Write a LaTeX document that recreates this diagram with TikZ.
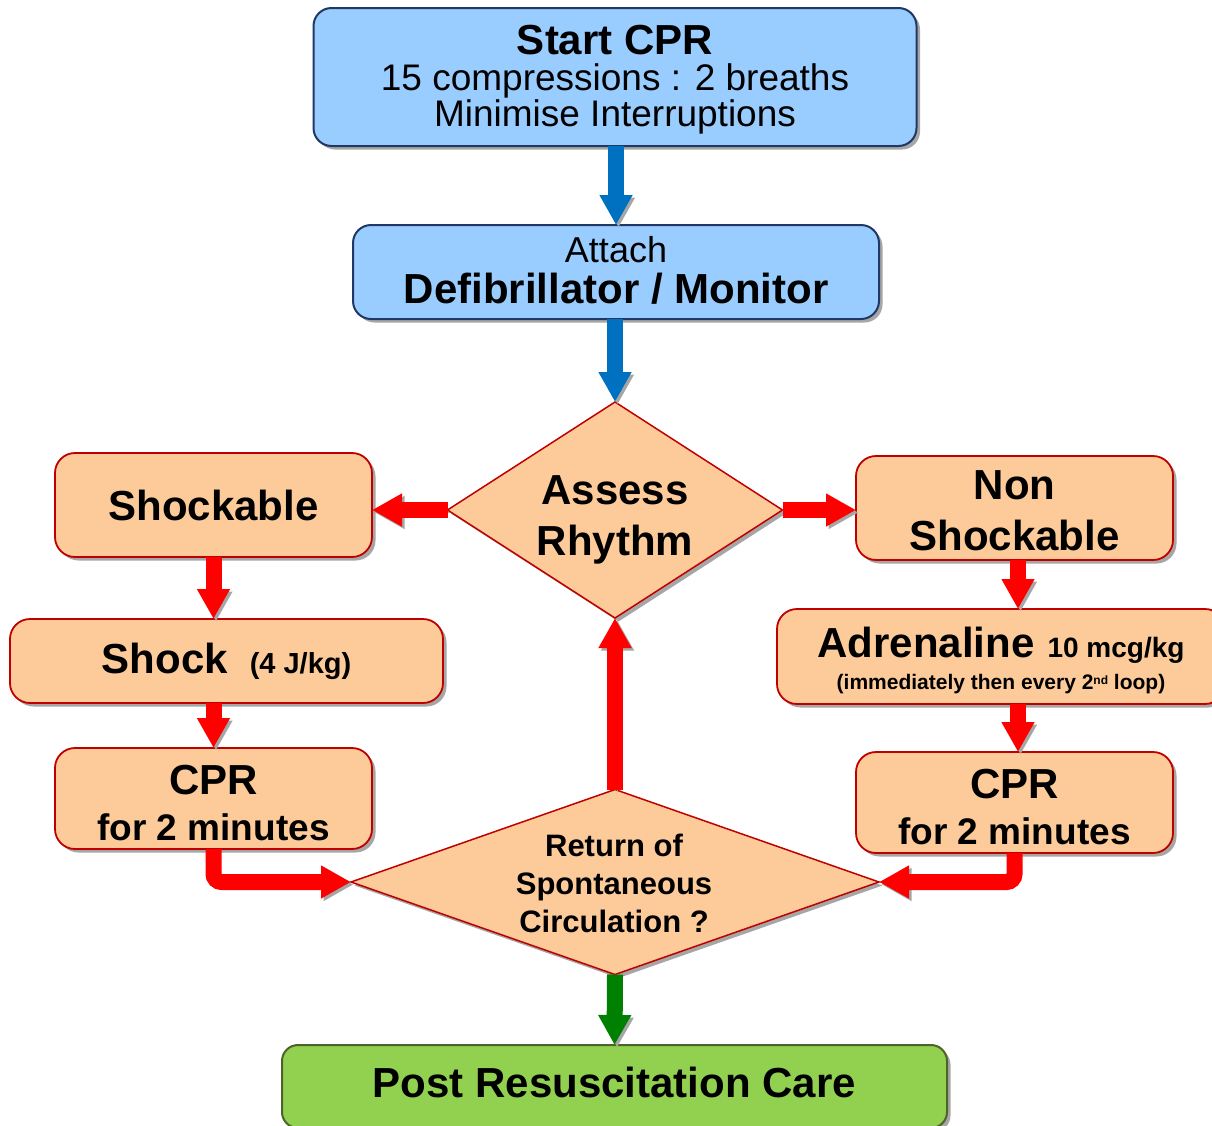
\documentclass[tikz,border=0pt]{standalone}
\usepackage{fontspec}
\setmainfont{Liberation Sans}
\usetikzlibrary{shapes.geometric,shadows,arrows.meta}
\definecolor{bluefill}{HTML}{99CCFF}
\definecolor{navyline}{HTML}{203864}
\definecolor{peach}{HTML}{FDCB99}
\definecolor{darkred}{HTML}{C00000}
\definecolor{redarr}{HTML}{FF0000}
\definecolor{bluearr}{HTML}{0070C0}
\definecolor{greenarr}{HTML}{008000}
\definecolor{greenfill}{HTML}{92D050}
\definecolor{greenline}{HTML}{4F6228}
\definecolor{shadowgray}{HTML}{A6A6A6}
\newcommand\fsz[2]{\fontsize{#1}{#2}\selectfont}
\newcommand\supsmall[1]{\raisebox{5pt}{\fsz{12}{12}#1}}
\begin{document}
\begin{tikzpicture}[x=1pt,y=-1pt,
  every node/.style={inner sep=0pt,outer sep=0pt,align=center},
  boxshadow/.style={drop shadow={shadow xshift=3.5pt,shadow yshift=-3.5pt,fill=shadowgray,opacity=1}},
  blbox/.style={rectangle,rounded corners=18pt,fill=bluefill,draw=navyline,line width=2pt,boxshadow},
  orbox/.style={rectangle,rounded corners=20pt,fill=peach,draw=darkred,line width=1.8pt,boxshadow},
  grbox/.style={rectangle,rounded corners=16pt,fill=greenfill,draw=greenline,line width=2pt,boxshadow},
  dia/.style={diamond,fill=peach,draw=darkred,line width=1.5pt,boxshadow},
  blockarr/.style={line width=16pt,-{Triangle[width=31pt,length=30pt]},
    preaction={draw=shadowgray,transform canvas={xshift=2.5pt,yshift=-2.5pt}}},
  redline/.style={blockarr,draw=redarr,color=redarr},
  blueline/.style={blockarr,draw=bluearr,color=bluearr},
  greenline/.style={blockarr,draw=greenarr,color=greenarr}
]
\useasboundingbox (0,0) rectangle (1212,1125);

% boxes
\node[blbox,minimum width=603pt,minimum height=138pt] (start) at (615,77) {};
\node[font=\fsz{37}{36}] (starttxt) at (615,80)
  {\bfseries\fsz{42}{36}Start CPR\\15 compressions : 2 breaths\\Minimise Interruptions};
\node[blbox,minimum width=526pt,minimum height=94pt] (attach) at (616,272) {};
\node[font=\fsz{36}{41}] (attachtxt) at (616,270)
  {Attach\\\bfseries\fsz{42}{41}Defibrillator / Monitor};
\node[dia,minimum width=335pt,minimum height=216pt] (assess) at (615,510) {};
\node[font=\bfseries\fsz{42}{51}] (assesstxt) at (615,520) {Assess\\Rhythm};

\node[orbox,minimum width=317pt,minimum height=104pt,font=\bfseries\fsz{42}{44}] (shockable) at (213.5,505)
  {Shockable};
\node[orbox,minimum width=317pt,minimum height=104pt] (nonshock) at (1014.5,508) {};
\node[font=\bfseries\fsz{42}{51}] (nonshocktxt) at (1014.5,511) {Non\\Shockable};
\node[orbox,minimum width=433pt,minimum height=84pt,font=\bfseries\fsz{42}{44}] (shock) at (226.5,661)
  {Shock\hspace{22pt}\fsz{29}{44}(4 J/kg)};
\node[orbox,minimum width=448pt,minimum height=95pt] (adren) at (1001,656.5) {};
\node[font=\bfseries\fsz{21}{32}] (adrentxt) at (1001,660)
  {\fsz{42}{32}Adrenaline\hspace{13pt}\fsz{28}{32}10 mcg/kg\\(immediately then every 2\supsmall{nd} loop)};
\node[orbox,minimum width=317pt,minimum height=101pt] (cprl) at (213.5,798.5) {};
\node[font=\bfseries\fsz{37}{46}] (cprltxt) at (213.5,803) {\fsz{42}{46}CPR\\for 2 minutes};
\node[orbox,minimum width=317pt,minimum height=101pt] (cprr) at (1014.5,802.5) {};
\node[font=\bfseries\fsz{37}{46}] (cprrtxt) at (1014.5,807.5) {\fsz{42}{46}CPR\\for 2 minutes};
\node[dia,minimum width=528pt,minimum height=185pt] (rosc) at (615,882) {};
\node[font=\bfseries\fsz{31}{38}] (rosctxt) at (614,883) {Return of\\Spontaneous\\Circulation ?};
\node[grbox,minimum width=665pt,minimum height=83pt] (post) at (614.5,1086.5) {};
\node[font=\bfseries\fsz{42}{44}] (posttxt) at (614.5,1082) {Post Resuscitation Care};

% connectors
\draw[blueline] (start.south -| attach.north) -- (attach.north);
\draw[blueline] (attach.south -| assess.north) -- (assess.north);
\draw[redline] (assess.west) -- (assess.west -| shockable.east);
\draw[redline] (assess.east) -- (assess.east -| nonshock.west);
\draw[redline] (shockable.south) -- (shockable.south |- shock.north);
\draw[redline] (shock.south -| cprl.north) -- (cprl.north);
\draw[redline] (nonshock.south) ++(3.5,0) coordinate (ns) -- (ns |- adren.north);
\draw[redline] (cprr.north |- adren.south) ++(3.5,0) coordinate (ad) -- (ad |- cprr.north);
\draw[redline] (rosc.north) -- (assess.south);
\draw[redline,rounded corners=8pt] (cprl.south) |- (rosc.west);
\draw[redline,rounded corners=8pt] (cprr.south) |- (rosc.east);
\draw[greenline] (rosc.south) -- (post.north);
\end{tikzpicture}
\end{document}
